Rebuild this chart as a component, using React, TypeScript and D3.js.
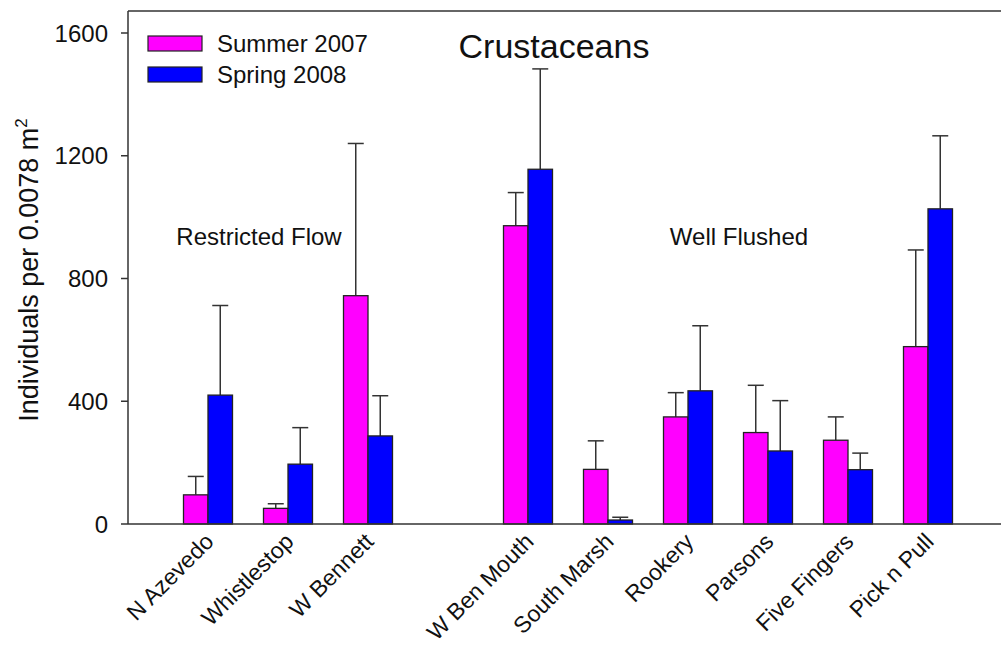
import React from "react";
import * as d3 from "d3";

const sites = ["N Azevedo", "Whistlestop", "W Bennett", "W Ben Mouth", "South Marsh", "Rookery", "Parsons", "Five Fingers", "Pick n Pull"];
const siteGroup = ["Restricted Flow", "Restricted Flow", "Restricted Flow", "Well Flushed", "Well Flushed", "Well Flushed", "Well Flushed", "Well Flushed", "Well Flushed"];
const summer2007 = [95, 51, 744, 972, 178, 349, 298, 273, 578];
const summer2007Err = [155, 66, 1240, 1080, 271, 428, 452, 349, 893];
const spring2008 = [420, 195, 287, 1156, 13, 434, 238, 177, 1027];
const spring2008Err = [712, 314, 418, 1483, 22, 646, 402, 231, 1265];
const seriesNames = ["Summer 2007", "Spring 2008"];
const seriesColors = ["#ff00ff", "#0000ff"];
const yTicks = [0, 400, 800, 1200, 1600];
const groupLabels = ["Restricted Flow", "Well Flushed"];
const title = "Crustaceans";

const W = 1001, H = 650;
const left = 128, right = 1001, top = 11, bottom = 524;
const FONT = "'Liberation Sans', Arial, Helvetica, sans-serif";

export default function App() {
  const slots = sites.map((_, i) => (siteGroup[i] === "Restricted Flow" ? i + 1 : i + 2));
  const x = d3.scaleLinear().domain([0, 10.9]).range([left, 1000]);
  const y = d3.scaleLinear().domain([0, 1600]).range([bottom, 33]);
  const bw = 24.5;
  const series = [
    { vals: summer2007, errs: summer2007Err },
    { vals: spring2008, errs: spring2008Err },
  ];
  return (
    <svg width={W} height={H} style={{ position: "absolute", left: 0, top: 0, background: "#fff" }} fontFamily={FONT}>
      <rect x={0} y={0} width={W} height={H} fill="#fff" />
      <line x1={left} x2={right} y1={top} y2={top} stroke="#333" strokeWidth={1.5} />
      <line x1={left} x2={left} y1={top} y2={bottom} stroke="#333" strokeWidth={1.5} />
      {sites.map((s, i) => {
        const cx = x(slots[i]);
        return (
          <g key={s}>
            {series.map((ser, k) => {
              const bx = cx - bw + k * bw;
              const midX = bx + bw / 2;
              return (
                <g key={k}>
                  <line x1={midX} x2={midX} y1={y(ser.vals[i])} y2={y(ser.errs[i])} stroke="#333" strokeWidth={1.5} />
                  <line x1={midX - 8} x2={midX + 8} y1={y(ser.errs[i])} y2={y(ser.errs[i])} stroke="#333" strokeWidth={1.5} />
                  <rect x={bx} y={y(ser.vals[i])} width={bw} height={y(0) - y(ser.vals[i])} fill={seriesColors[k]} stroke="#222" strokeWidth={1.3} />
                </g>
              );
            })}
          </g>
        );
      })}
      <line x1={left} x2={right} y1={bottom} y2={bottom} stroke="#333" strokeWidth={1.5} />
      {sites.map((s, i) => (
        <text key={s} transform={`translate(${x(slots[i]) + 7},${bottom + 19}) rotate(-45)`} textAnchor="end" fontSize={23} fill="#111">
          {s}
        </text>
      ))}
      {yTicks.map((t) => (
        <g key={t}>
          <line x1={left - 7} x2={left} y1={y(t)} y2={y(t)} stroke="#333" strokeWidth={1.5} />
          <text x={left - 20} y={y(t)} dy="0.36em" textAnchor="end" fontSize={24} fill="#111">{t}</text>
        </g>
      ))}
      <text transform={`translate(38,${270}) rotate(-90)`} textAnchor="middle" fontSize={27} fill="#111">
        Individuals per 0.0078 m<tspan dy={-11} fontSize={17}>2</tspan>
      </text>
      <text x={554} y={58} textAnchor="middle" fontSize={34} fill="#111">{title}</text>
      {groupLabels.map((g, i) => (
        <text key={g} x={i === 0 ? 259 : 739} y={245} textAnchor="middle" fontSize={24} fill="#111">{g}</text>
      ))}
      {seriesNames.map((n, k) => (
        <g key={n}>
          <rect x={148} y={36 + k * 31} width={54} height={15} fill={seriesColors[k]} stroke="#222" strokeWidth={1.2} />
          <text x={217} y={43.5 + k * 30.5} dy="0.36em" fontSize={24} fill="#111">{n}</text>
        </g>
      ))}
    </svg>
  );
}
